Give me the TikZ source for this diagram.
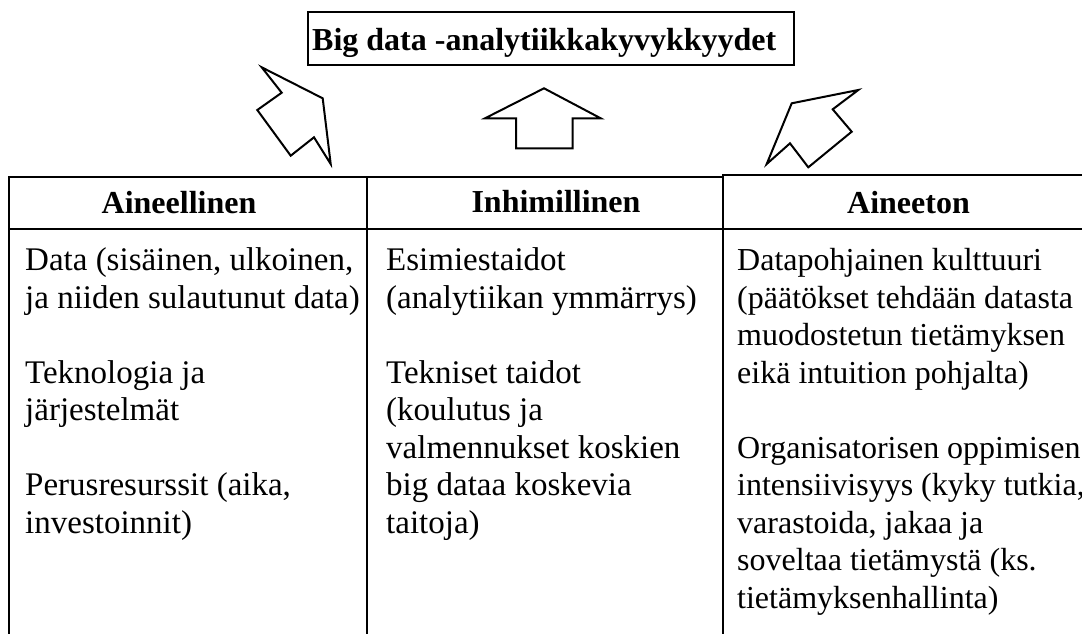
\documentclass[tikz,border=0pt]{standalone}
\usepackage{fontspec}
\setmainfont{Liberation Serif}
\begin{document}
\begin{tikzpicture}[x=1pt,y=-1pt,
  rule/.style={line width=2pt},
  blockarrow/.style={line width=2pt, line join=miter},
  titlebox/.style={draw, line width=2.3pt, minimum width=486pt, minimum height=53pt, inner sep=0pt},
  titletext/.style={font=\fontsize{32}{37}\selectfont\bfseries, anchor=base west, inner sep=0pt},
  body/.style={font=\fontsize{33}{37.5}\selectfont, anchor=base west, inner sep=0pt},
  bodynarrow/.style={font=\fontsize{32}{37.5}\selectfont, anchor=base west, inner sep=0pt},
  head/.style={font=\fontsize{32}{37}\selectfont\bfseries, anchor=base, inner sep=0pt}]
\useasboundingbox (0,0) rectangle (1082,633);

% title
\node[titlebox] (titlebox) at (551,38.5) {};
\node[titletext] (title) at (312,50) {Big data -analytiikkakyvykkyydet};

% block arrows
\draw[blockarrow] (261.7,67.3) -- (322.7,98.3) -- (330.7,164) -- (314,137.3)
  -- (290.7,155.7) -- (257.3,110) -- (281.7,92.7) -- cycle;
\draw[blockarrow] (544,88.3) -- (600.7,118.3) -- (572.7,118.3) -- (572.7,148.3)
  -- (516,148.3) -- (516,118.3) -- (485,118.3) -- cycle;
\draw[blockarrow] (858.3,90) -- (791.7,103.3) -- (766.7,164) -- (790,143.3)
  -- (808.3,167.3) -- (851.7,131.7) -- (832.7,109.3) -- cycle;

% table rules
\draw[rule] (9,177) -- (723,177);
\draw[rule] (723,175) -- (1090,175);
\draw[rule] (9,229) -- (1090,229);
\draw[rule] (9,176) -- (9,640);
\draw[rule] (367,176) -- (367,640);
\draw[rule] (723,174) -- (723,640);

% headers
\node[head] (h1) at (179,213) {Aineellinen};
\node[head] (h2) at (556,212) {Inhimillinen};
\node[head] (h3) at (908.5,213) {Aineeton};

% column 1
\foreach \r/\t [count=\i] in {1/{Data (sisäinen, ulkoinen,},
    2/{ja niiden sulautunut data)},
    4/{Teknologia ja},
    5/{järjestelmät},
    7/{Perusresurssit (aika,},
    8/{investoinnit)}}
  \node[body] (a\i) at (25,{270.5+37.5*(\r-1)}) {\t};

% column 2
\foreach \r/\t [count=\i] in {1/{Esimiestaidot},
    2/{(analytiikan ymmärrys)},
    4/{Tekniset taidot},
    5/{(koulutus ja},
    6/{valmennukset koskien},
    7/{big dataa koskevia},
    8/{taitoja)}}
  \node[body] (b\i) at (386,{270.5+37.5*(\r-1)}) {\t};

% column 3
\foreach \r/\t [count=\i] in {1/{Datapohjainen kulttuuri},
    2/{(päätökset tehdään datasta},
    3/{muodostetun tietämyksen},
    4/{eikä intuition pohjalta)},
    6/{Organisatorisen oppimisen},
    7/{intensiivisyys (kyky tutkia,},
    8/{varastoida, jakaa ja},
    9/{soveltaa tietämystä (ks.},
    10/{tietämyksenhallinta)}}
  \node[bodynarrow] (c\i) at (737,{270.5+37.5*(\r-1)}) {\t};
\end{tikzpicture}
\end{document}
